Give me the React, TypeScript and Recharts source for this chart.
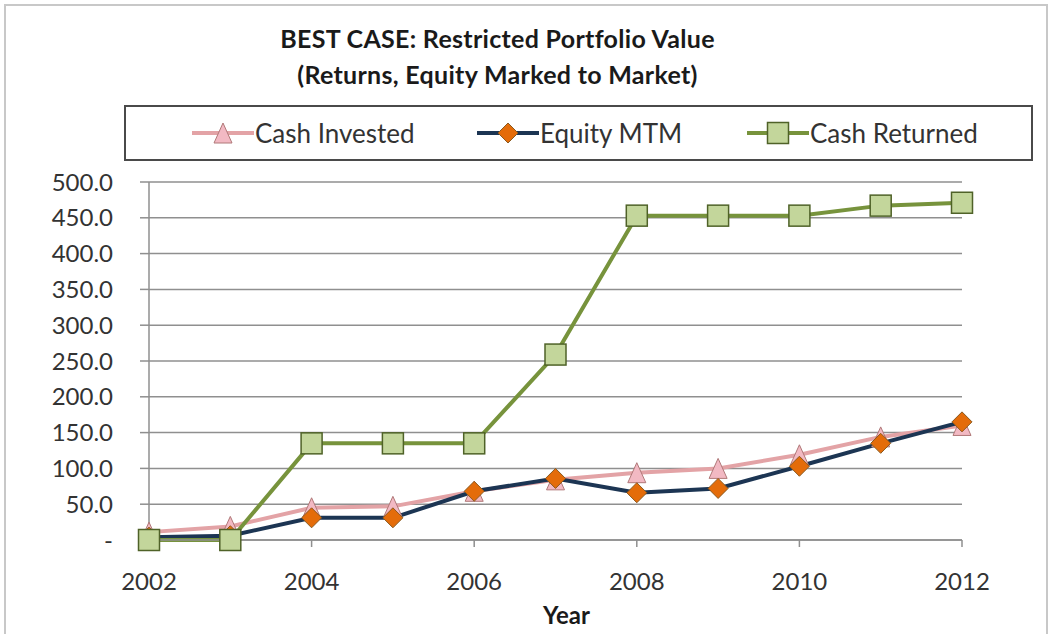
import { LineChart, Line, XAxis, YAxis, CartesianGrid, Label } from 'recharts';

const years = ['2002', '2003', '2004', '2005', '2006', '2007', '2008', '2009', '2010', '2011', '2012'];
const cashInvested = [11, 19, 45, 47, 68, 84, 94, 100, 119, 144, 160];
const equityMtm = [4, 6, 31, 31, 68, 86, 66, 72, 103, 135, 165];
const cashReturned = [0, 0, 135, 135, 135, 259, 453, 453, 453, 467, 471];
const yTicks = [0, 50, 100, 150, 200, 250, 300, 350, 400, 450, 500];

const data = years.map((year, i) => ({
  year,
  invested: cashInvested[i],
  equity: equityMtm[i],
  returned: cashReturned[i],
}));

const FONT = 'Lato, "Open Sans", sans-serif';
const TEXT = '#333333';
const GRID = '#8f8f8f';

const PINK_LINE = '#e3a3a6';
const PINK_FILL = '#f2b9c3';
const PINK_EDGE = '#b07878';
const NAVY = '#1c3553';
const ORANGE = '#e46c0a';
const ORANGE_EDGE = '#8a5a20';
const GREEN_LINE = '#77933c';
const GREEN_FILL = '#c3d69b';
const GREEN_EDGE = '#4f6228';

interface DotProps {
  cx?: number;
  cy?: number;
  index?: number;
}

function TriangleDot({ cx, cy, index }: DotProps) {
  if (cx == null || cy == null) return null;
  const w = 9;
  const h = 10;
  return (
    <polygon
      key={`tri-${index}`}
      points={`${cx},${cy - h} ${cx - w},${cy + h} ${cx + w},${cy + h}`}
      fill={PINK_FILL}
      stroke={PINK_EDGE}
      strokeWidth={1}
    />
  );
}

function DiamondDot({ cx, cy, index }: DotProps) {
  if (cx == null || cy == null) return null;
  const r = 10;
  return (
    <polygon
      key={`dia-${index}`}
      points={`${cx},${cy - r} ${cx + r},${cy} ${cx},${cy + r} ${cx - r},${cy}`}
      fill={ORANGE}
      stroke={ORANGE_EDGE}
      strokeWidth={1}
    />
  );
}

function SquareDot({ cx, cy, index }: DotProps) {
  if (cx == null || cy == null) return null;
  const s = 10.5;
  return (
    <rect
      key={`sq-${index}`}
      x={cx - s}
      y={cy - s}
      width={s * 2}
      height={s * 2}
      fill={GREEN_FILL}
      stroke={GREEN_EDGE}
      strokeWidth={1.5}
    />
  );
}

function LegendIcon({ kind }: { kind: 'tri' | 'dia' | 'sq' }) {
  const color = kind === 'tri' ? PINK_LINE : kind === 'dia' ? NAVY : GREEN_LINE;
  return (
    <svg width={62} height={24} style={{ verticalAlign: 'middle' }}>
      <line x1={0} y1={12} x2={62} y2={12} stroke={color} strokeWidth={4} />
      {kind === 'tri' && <TriangleDot cx={31} cy={12} />}
      {kind === 'dia' && <DiamondDot cx={31} cy={12} />}
      {kind === 'sq' && <SquareDot cx={31} cy={12} />}
    </svg>
  );
}

const legendItems: Array<{ kind: 'tri' | 'dia' | 'sq'; label: string; left: number }> = [
  { kind: 'tri', label: 'Cash Invested', left: 66 },
  { kind: 'dia', label: 'Equity MTM', left: 351 },
  { kind: 'sq', label: 'Cash Returned', left: 621 },
];

const formatY = (v: number) => (v === 0 ? '-' : v.toFixed(1));

export default function App() {
  return (
    <div
      style={{
        position: 'absolute',
        left: 0,
        top: 0,
        width: 1053,
        height: 634,
        background: '#ffffff',
        fontFamily: FONT,
        overflow: 'hidden',
      }}
    >
      <div
        style={{
          position: 'absolute',
          left: 4,
          top: 4,
          width: 1044,
          height: 650,
          border: '2px solid #c8c8c8',
          boxSizing: 'border-box',
        }}
      />
      <div
        style={{
          position: 'absolute',
          left: 0,
          top: 20,
          width: 995,
          textAlign: 'center',
          fontWeight: 700,
          fontSize: 25,
          letterSpacing: 0.3,
          lineHeight: '36px',
          color: '#1a1a1a',
        }}
      >
        <div>BEST CASE: Restricted Portfolio Value</div>
        <div>(Returns, Equity Marked to Market)</div>
      </div>
      <div
        style={{
          position: 'absolute',
          left: 124,
          top: 105,
          width: 909,
          height: 56,
          border: '2px solid #4a4a4a',
          boxSizing: 'border-box',
        }}
      >
        {legendItems.map((item) => (
          <div
            key={item.label}
            style={{
              position: 'absolute',
              left: item.left,
              top: 10,
              display: 'flex',
              alignItems: 'center',
              fontSize: 26,
              color: TEXT,
              whiteSpace: 'nowrap',
            }}
          >
            <LegendIcon kind={item.kind} />
            <span style={{ marginLeft: 1 }}>{item.label}</span>
          </div>
        ))}
      </div>
      <LineChart
        width={1053}
        height={634}
        data={data}
        margin={{ top: 182, right: 91, bottom: 0, left: 0 }}
        style={{ position: 'absolute', left: 0, top: 0 }}
      >
        <CartesianGrid vertical={false} stroke={GRID} strokeWidth={1.5} />
        <XAxis
          dataKey="year"
          interval={1}
          height={94}
          stroke={GRID}
          strokeWidth={1.5}
          tickSize={7}
          tickMargin={26}
          tick={{ fontFamily: FONT, fontSize: 24, fill: TEXT }}
        >
          <Label
            value="Year"
            position="insideBottom"
            offset={10}
            dx={11}
            style={{ fontFamily: FONT, fontSize: 24, fontWeight: 700, fill: '#1a1a1a' }}
          />
        </XAxis>
        <YAxis
          domain={[0, 500]}
          ticks={yTicks}
          width={149}
          stroke={GRID}
          strokeWidth={1.5}
          tickSize={9}
          tickMargin={27}
          tickFormatter={formatY}
          tick={{ fontFamily: FONT, fontSize: 24, fill: TEXT }}
        />
        <Line
          dataKey="invested"
          stroke={PINK_LINE}
          strokeWidth={4}
          dot={(p: DotProps) => <TriangleDot {...p} />}
          activeDot={false}
          isAnimationActive={false}
        />
        <Line
          dataKey="equity"
          stroke={NAVY}
          strokeWidth={4}
          dot={(p: DotProps) => <DiamondDot {...p} />}
          activeDot={false}
          isAnimationActive={false}
        />
        <Line
          dataKey="returned"
          stroke={GREEN_LINE}
          strokeWidth={4}
          dot={(p: DotProps) => <SquareDot {...p} />}
          activeDot={false}
          isAnimationActive={false}
        />
      </LineChart>
    </div>
  );
}
